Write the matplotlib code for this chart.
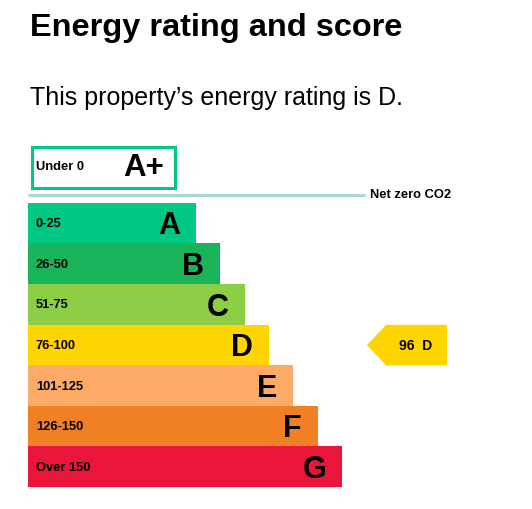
"""
Energy rating and score chart (EPC style) for one property.
"""

import matplotlib

matplotlib.use("Agg")
import matplotlib.pyplot as plt
from matplotlib.patches import Polygon, Rectangle

plt.rcParams["font.family"] = ["Liberation Sans", "DejaVu Sans"]

# data
bands = ["A", "B", "C", "D", "E", "F", "G"]
ranges = ["0-25", "26-50", "51-75", "76-100", "101-125", "126-150", "Over 150"]
bar_lengths = [168, 192, 217, 241, 265, 290, 314]
band_colors = ["#00c781", "#19b459", "#8dce46", "#ffd500",
               "#fcaa65", "#ef8023", "#e9153b"]
plus_band = "A+"
plus_range = "Under 0"
current_score = 96
current_band = "D"

W, H = 532, 509
fig = plt.figure(figsize=(W / 100, H / 100), dpi=100)
ax = fig.add_axes([0, 0, 1, 1])
ax.set_xlim(0, W)
ax.set_ylim(H, 0)
ax.axis("off")

x0 = 28
top = 203
row_h = 40.6
centers = [top + row_h * (i + 0.5) for i in range(len(bands))]

ax.barh(centers, bar_lengths, left=x0, height=row_h + 0.3,
        color=band_colors, linewidth=0)

for yc, length, band, rng in zip(centers, bar_lengths, bands, ranges):
    ax.text(x0 + 8, yc + 0.8, rng, fontsize=9.3, fontweight="bold",
            ha="left", va="center", color="black")
    ax.text(x0 + length - 16, yc + 11, band, fontsize=22, fontweight="bold",
            ha="right", va="baseline", color="black")

# A+ box
ax.add_patch(Rectangle((31.5, 146.5), 143, 41, facecolor="white",
                       edgecolor=band_colors[0], linewidth=2.2))
ax.text(x0 + 8, 167.5, plus_range, fontsize=9.3, fontweight="bold",
        ha="left", va="center", color="black")
ax.text(164, 176, plus_band, fontsize=22.5, fontweight="bold",
        ha="right", va="baseline", color="black")

# net zero line
ax.plot([x0, 365], [195, 195], color="#a6d8d9", linewidth=2.2,
        solid_capstyle="butt")
ax.text(370, 195, "Net zero CO2", fontsize=9.3, fontweight="bold",
        ha="left", va="center", color="black")

# current rating arrow
k = bands.index(current_band)
yc = centers[k]
half = row_h / 2
arrow = Polygon([(367, yc), (386, yc - half), (447, yc - half),
                 (447, yc + half), (386, yc + half)],
                closed=True, facecolor=band_colors[k], edgecolor="none")
ax.add_patch(arrow)
ax.text(416, yc + 0.5, f"{current_score}  {current_band}", fontsize=10,
        fontweight="bold", ha="center", va="center", color="black")

# headings
ax.text(30, 35.7, "Energy rating and score", fontsize=23.4,
        fontweight="bold", ha="left", va="baseline", color="black")
ax.text(30, 104.6, "This property\u2019s energy rating is D.", fontsize=18,
        ha="left", va="baseline", color="black")

fig.savefig("out.png", dpi=100)
